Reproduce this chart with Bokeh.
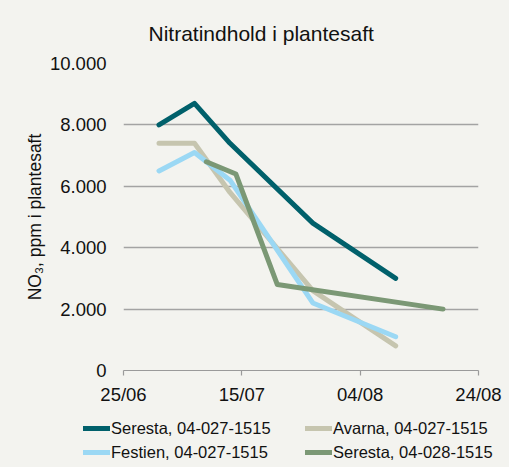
import pandas as pd
from bokeh.plotting import figure
from bokeh.layouts import column
from bokeh.models import (Range1d, FixedTicker, DatetimeTickFormatter, Legend, LegendItem)
from bokeh.embed import file_html
from bokeh.resources import INLINE

# ---- data ----
title_text = "Nitratindhold i plantesaft"
y_label = "NO\u2083, ppm i plantesaft"

dates_027 = ["2015-07-01", "2015-07-07", "2015-07-13", "2015-07-27", "2015-08-10"]
seresta_027 = [8000, 8700, 7400, 4800, 3000]
avarna_027 = [7400, 7400, 5800, 2600, 800]
festien_027 = [6500, 7100, 6200, 2200, 1100]

dates_028 = ["2015-07-09", "2015-07-14", "2015-07-21", "2015-08-18"]
seresta_028 = [6800, 6400, 2800, 2000]

series_names = ["Seresta, 04-027-1515", "Avarna, 04-027-1515",
                "Festien, 04-027-1515", "Seresta, 04-028-1515"]
series_colors = ["#00606b", "#c6c5af", "#9bd8f4", "#7b9875"]

x_ticks = ["2015-06-25", "2015-07-15", "2015-08-04", "2015-08-24"]
y_ticks = [0, 2000, 4000, 6000, 8000, 10000]
y_tick_labels = ["0", "2.000", "4.000", "6.000", "8.000", "10.000"]

# ---- figure ----
FONT = "Liberation Sans"
BG = "#f3f3ef"
TXT = "#111111"

d027 = pd.to_datetime(dates_027)
d028 = pd.to_datetime(dates_028)
xt = pd.to_datetime(x_ticks)
x_dates = [d027, d027, d027, d028]
y_values = [seresta_027, avarna_027, festien_027, seresta_028]

p = figure(width=509, height=407, output_backend="svg", toolbar_location=None,
           x_axis_type="datetime",
           x_range=Range1d(xt[0], xt[-1]), y_range=Range1d(0, 10000),
           min_border_left=123, min_border_right=31, min_border_top=63,
           min_border_bottom=36)
p.frame_align = False
p.background_fill_color = BG
p.border_fill_color = BG
p.outline_line_color = None

p.title.text = title_text
p.title.text_font = FONT
p.title.text_font_size = "21px"
p.title.text_font_style = "normal"
p.title.text_color = TXT
p.title.align = "left"
p.title.offset = 25
p.title.standoff = 37

# grid
p.xgrid.grid_line_color = None
p.ygrid.grid_line_color = "#a3a3a3"
p.ygrid.grid_line_width = 1.5
p.ygrid.ticker = FixedTicker(ticks=y_ticks)

# y axis
ya = p.yaxis[0]
ya.ticker = FixedTicker(ticks=y_ticks)
ya.major_label_overrides = {v: s for v, s in zip(y_ticks, y_tick_labels)}
ya.axis_line_color = None
ya.major_tick_line_color = None
ya.minor_tick_line_color = None
ya.major_tick_in = 0
ya.major_tick_out = 0
ya.minor_tick_in = 0
ya.minor_tick_out = 0
ya.major_label_standoff = 17
ya.major_label_text_font = FONT
ya.major_label_text_font_size = "18.5px"
ya.major_label_text_color = TXT
ya.axis_label = y_label
ya.axis_label_text_font = FONT
ya.axis_label_text_font_size = "17.5px"
ya.axis_label_text_font_style = "normal"
ya.axis_label_text_color = TXT
ya.axis_label_standoff = 2

# x axis
xa = p.xaxis[0]
xa.ticker = FixedTicker(ticks=[t.timestamp() * 1000 for t in xt])
fmt = "%d/%m"
xa.formatter = DatetimeTickFormatter(days=fmt, months=fmt, years=fmt, hours=fmt,
                                     hourmin=fmt, minutes=fmt, minsec=fmt,
                                     seconds=fmt, milliseconds=fmt,
                                     microseconds=fmt)
xa.axis_line_color = "#9a9a9a"
xa.axis_line_width = 1.2
xa.major_tick_line_color = "#9a9a9a"
xa.major_tick_line_width = 1.2
xa.major_tick_in = 0
xa.major_tick_out = 5
xa.minor_tick_line_color = None
xa.minor_tick_in = 0
xa.minor_tick_out = 0
xa.major_label_standoff = 8
xa.major_label_text_font = FONT
xa.major_label_text_font_size = "18.5px"
xa.major_label_text_color = TXT

# lines
kw = dict(line_width=5, line_cap="round", line_join="round")
for xs, ys, c in zip(x_dates, y_values, series_colors):
    p.line(xs, ys, line_color=c, **kw)

# ---- legend strip (second figure sharing the same series) ----
pl = figure(width=509, height=60, output_backend="svg", toolbar_location=None,
            x_axis_type="datetime", x_range=p.x_range, y_range=p.y_range,
            x_axis_location=None, y_axis_location=None,
            min_border_left=0, min_border_right=0, min_border_top=0,
            min_border_bottom=0)
pl.frame_align = False
pl.background_fill_color = BG
pl.border_fill_color = BG
pl.outline_line_color = None
pl.grid.visible = False

items = []
for name, xs, ys, c in zip(series_names, x_dates, y_values, series_colors):
    r = pl.line(xs, ys, line_color=c, **kw)
    r.visible = False
    items.append(LegendItem(label=name, renderers=[r]))

legend = Legend(items=items, location=(83, 5), orientation="horizontal", ncols=2,
                background_fill_alpha=0, border_line_color=None,
                inactive_fill_alpha=0,
                padding=0, margin=0, spacing=4,
                glyph_width=27, glyph_height=20, label_height=20,
                label_width=190, label_standoff=1,
                label_text_font=FONT, label_text_font_size="16.5px",
                label_text_color=TXT)
pl.add_layout(legend)

layout = column(p, pl, spacing=0)
layout.background = BG

open("out.html", "w").write(file_html(layout, INLINE))
